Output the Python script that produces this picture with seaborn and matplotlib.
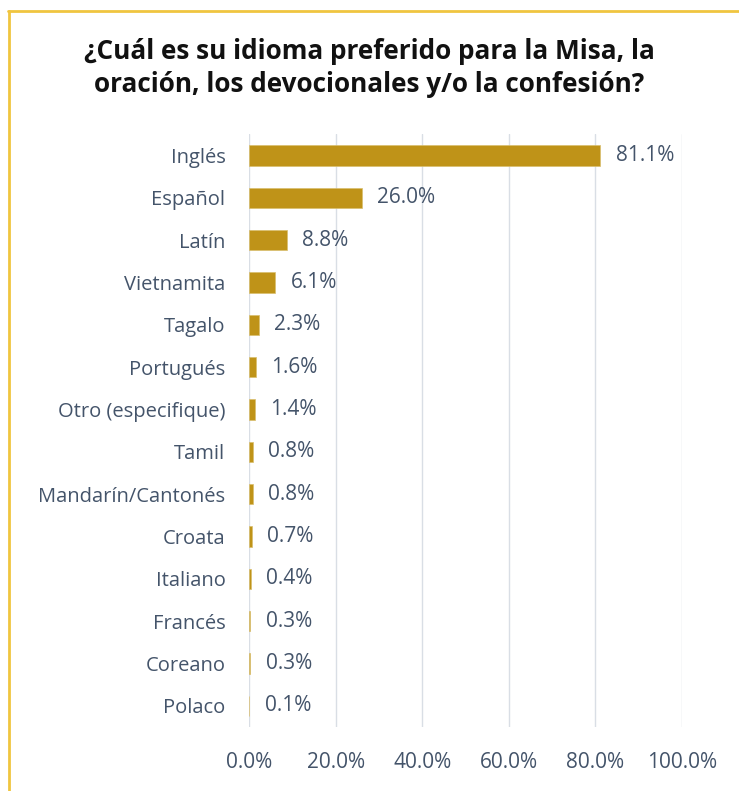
import matplotlib
matplotlib.use("Agg")
import matplotlib.pyplot as plt
import seaborn as sns
import pandas as pd
from matplotlib.lines import Line2D

categories = ["Inglés", "Español", "Latín", "Vietnamita", "Tagalo", "Portugués",
              "Otro (especifique)", "Tamil", "Mandarín/Cantonés", "Croata",
              "Italiano", "Francés", "Coreano", "Polaco"]
values = [81.1, 26.0, 8.8, 6.1, 2.3, 1.6, 1.4, 0.8, 0.8, 0.7, 0.4, 0.3, 0.3, 0.1]
xticks = [0, 20, 40, 60, 80, 100]
title = "¿Cuál es su idioma preferido para la Misa, la\noración, los devocionales y/o la confesión?"

sns.set_style("white")
plt.rcParams['font.family'] = ['Open Sans', 'DejaVu Sans']

text_color = "#44546A"
bar_color = "#BF9318"

df = pd.DataFrame({"idioma": categories, "pct": values})

fig = plt.figure(figsize=(7.39, 7.91), dpi=100)
ax = fig.add_axes([0.337, 0.081, 0.586, 0.749])
sns.barplot(data=df, y="idioma", x="pct", color=bar_color, width=0.48,
            saturation=1, ax=ax, orient="h", edgecolor="#D9BE6E", linewidth=0.5)

ax.set_xlim(0, 100)
ax.set_xticks(xticks)
ax.set_xticklabels([f"{v:.1f}%" for v in xticks], fontsize=15, color=text_color)
ax.tick_params(axis="x", length=0, pad=18)
ax.tick_params(axis="y", length=0, pad=17, labelsize=14.5, labelcolor=text_color)
ax.set_xlabel("")
ax.set_ylabel("")
ax.grid(axis="x", color="#D9DEE5", linewidth=1)
ax.set_axisbelow(True)
for s in ax.spines.values():
    s.set_visible(False)

ax.bar_label(ax.containers[0], labels=[f"{v:.1f}%" for v in values],
             padding=11, fontsize=15, color=text_color)

fig.text(0.5, 1 - 68/791, title, ha="center", va="center", fontsize=18.8,
         fontweight="bold", color="#111111", linespacing=1.25)

# yellow frame (top and left)
frame_color = "#F0C540"
fig.add_artist(Line2D([8/739, 1.0], [1 - 11/791, 1 - 11/791], color=frame_color,
                      linewidth=2, transform=fig.transFigure))
fig.add_artist(Line2D([9/739, 9/739], [0, 1 - 11/791], color=frame_color,
                      linewidth=2, transform=fig.transFigure))

fig.savefig("out.png", dpi=100, facecolor="white")
